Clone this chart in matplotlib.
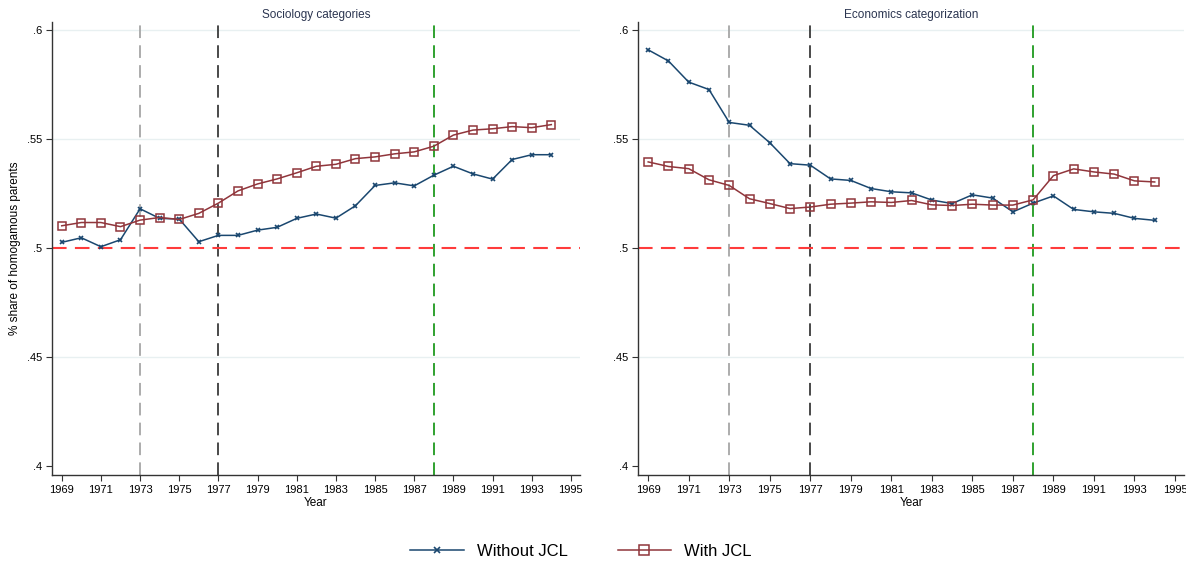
import numpy as np
import matplotlib.pyplot as plt

plt.rcParams['font.family'] = ['Liberation Sans', 'DejaVu Sans']

years = list(range(1969, 1995))

soc_without = [0.5026, 0.5047, 0.5006, 0.5038, 0.5180, 0.5136, 0.5133, 0.5029, 0.5058,
               0.5058, 0.5082, 0.5095, 0.5136, 0.5156, 0.5137, 0.5194, 0.5287, 0.5299,
               0.5285, 0.5334, 0.5375, 0.5340, 0.5316, 0.5406, 0.5428, 0.5428]
soc_with = [0.5102, 0.5117, 0.5117, 0.5098, 0.5128, 0.5140, 0.5131, 0.5159, 0.5206,
            0.5262, 0.5294, 0.5317, 0.5345, 0.5375, 0.5384, 0.5410, 0.5418, 0.5432,
            0.5441, 0.5467, 0.5518, 0.5541, 0.5547, 0.5557, 0.5552, 0.5566]
eco_without = [0.5909, 0.5858, 0.5761, 0.5727, 0.5576, 0.5563, 0.5483, 0.5387, 0.5380,
               0.5317, 0.5310, 0.5273, 0.5258, 0.5253, 0.5220, 0.5204, 0.5244, 0.5229,
               0.5166, 0.5206, 0.5239, 0.5177, 0.5166, 0.5159, 0.5136, 0.5127]
eco_with = [0.5395, 0.5374, 0.5364, 0.5313, 0.5287, 0.5226, 0.5204, 0.5181, 0.5188,
            0.5201, 0.5206, 0.5212, 0.5209, 0.5218, 0.5198, 0.5195, 0.5201, 0.5197,
            0.5197, 0.5221, 0.5332, 0.5363, 0.5349, 0.5339, 0.5308, 0.5303]

titles = ['Sociology categories', 'Economics categorization']
xticks = list(range(1969, 1996, 2))
yticks = [0.4, 0.45, 0.5, 0.55, 0.6]
ytick_labels = ['.4', '.45', '.5', '.55', '.6']
vlines = [(1973, '#a6a6a6'), (1977, '#3a3a3a'), (1988, '#1f9a1f')]

blue = '#1a476f'
red = '#90353b'

fig = plt.figure(figsize=(11.86, 5.67), dpi=100)
ax1 = fig.add_axes([0.0438, 0.1623, 0.445, 0.799])
ax2 = fig.add_axes([0.538, 0.1623, 0.4604, 0.799])

panels = [(ax1, soc_without, soc_with), (ax2, eco_without, eco_with)]
for i, (ax, wo, wi) in enumerate(panels):
    for yv in [0.45, 0.55, 0.6]:
        ax.axhline(yv, color='#e8f0f1', lw=1, zorder=0)
    for xv, c in vlines:
        ax.axvline(xv, color=c, lw=1.3, ls=(0, (7, 4)), zorder=1)
    ax.axhline(0.5, color='#ff3b3b', lw=1.5, ls=(0, (7, 4)), zorder=1)
    l1, = ax.plot(years, wo, color=blue, lw=1.1, marker='x', ms=3.3, mew=1.2, zorder=3,
                  label='Without JCL')
    l2, = ax.plot(years, wi, color=red, lw=1.1, marker='s', ms=5.3, mfc='none', mew=1.1,
                  zorder=3, label='With JCL')
    ax.set_xlim(1968.5, 1995.45)
    ax.set_ylim(0.3959, 0.6037)
    ax.set_xticks(xticks)
    ax.set_yticks(yticks)
    ax.set_yticklabels(ytick_labels)
    ax.tick_params(labelsize=8, length=4, width=0.8, color='#333333', pad=3)
    for s in ['top', 'right']:
        ax.spines[s].set_visible(False)
    for s in ['left', 'bottom']:
        ax.spines[s].set_color('#333333')
        ax.spines[s].set_linewidth(1.0)
    ax.set_title(titles[i], fontsize=8.5, color='#2b3550', pad=3)
    ax.set_xlabel('Year', fontsize=8.5, labelpad=2)

ax1.set_ylabel('% share of homogamous parents', fontsize=8.5, labelpad=4)

fig.legend(handles=[l1, l2], loc='center', bbox_to_anchor=(0.49, 0.027), ncol=2,
           frameon=False, fontsize=12, handlelength=3.2, columnspacing=3, markerscale=1.4)

fig.savefig('out.png', dpi=100)
